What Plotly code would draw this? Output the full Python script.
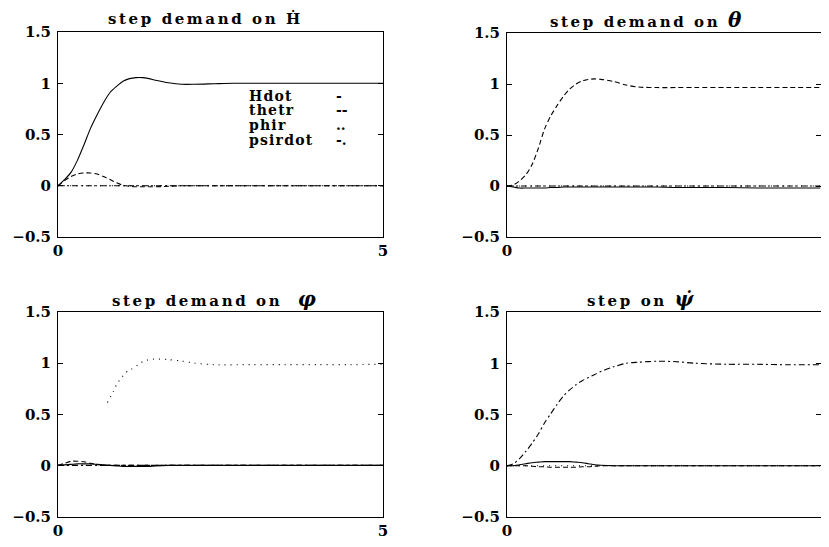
import plotly.graph_objects as go

# ---------------- data ----------------
t = [0, 0.1, 0.2, 0.3, 0.4, 0.5, 0.6, 0.7, 0.8, 0.9, 1.0, 1.1, 1.2, 1.3, 1.4, 1.5,
     1.7, 1.9, 2.1, 2.4, 2.7, 3.0, 3.5, 4.0, 4.5, 5.0]
zeros = [0] * len(t)

# step demand on H-dot
H_hdot = [0, 0.06, 0.13, 0.25, 0.40, 0.56, 0.69, 0.81, 0.91, 0.97, 1.02, 1.045, 1.055, 1.055,
          1.045, 1.03, 1.005, 0.99, 0.99, 0.995, 1.0, 1.0, 1.0, 1.0, 1.0, 1.0]
H_thetr = [0, 0.05, 0.09, 0.115, 0.125, 0.125, 0.115, 0.09, 0.06, 0.03, 0.005, -0.005, -0.01,
           -0.01, -0.01, -0.01, -0.005, 0, 0, 0, 0, 0, 0, 0, 0, 0]
H_phir = zeros
H_psirdot = zeros

# step demand on theta
T_hdot = [0, -0.01, -0.02, -0.02, -0.02, -0.02, -0.02, -0.015, -0.015, -0.01, -0.01, -0.01,
          -0.01, -0.01, -0.01, -0.01, -0.01, -0.01, -0.01, -0.01, -0.015, -0.015, -0.015,
          -0.02, -0.02, -0.02]
T_thetr = [0, 0.01, 0.05, 0.11, 0.21, 0.37, 0.56, 0.69, 0.79, 0.88, 0.95, 1.0, 1.03, 1.045,
           1.05, 1.045, 1.025, 0.99, 0.97, 0.965, 0.965, 0.965, 0.965, 0.965, 0.965, 0.965]
T_phir = zeros
T_psirdot = zeros

# step demand on phi
P_hdot = [0, 0.005, 0.01, 0.015, 0.015, 0.015, 0.01, 0.005, 0, -0.005, -0.01, -0.01, -0.01,
          -0.01, -0.01, -0.005, 0, 0, 0, 0, 0, 0, 0, 0, 0, 0]
P_thetr = [0, 0.02, 0.04, 0.04, 0.035, 0.02, 0.01, 0, 0, 0, 0, 0, 0, 0, 0, 0, 0, 0, 0, 0, 0,
           0, 0, 0, 0, 0]
P_phir_t = [0.76, 0.85, 0.91, 1.05, 1.13, 1.27, 1.32, 1.48, 1.69, 1.9, 2.1, 2.4, 3.0, 3.5,
            4.0, 4.5, 5.0]
P_phir = [0.615, 0.72, 0.80, 0.91, 0.94, 1.0, 1.02, 1.04, 1.035, 1.02, 1.0, 0.985, 0.985,
          0.985, 0.985, 0.985, 0.99]
P_psirdot = zeros

# step on psi-dot
S_hdot = [0, 0, 0.01, 0.02, 0.03, 0.035, 0.04, 0.04, 0.04, 0.04, 0.04, 0.035, 0.03, 0.02,
          0.01, 0.005, 0, 0, 0, 0, 0, 0, 0, 0, 0, 0]
S_thetr = [0, 0, 0, 0, -0.005, -0.01, -0.01, -0.015, -0.015, -0.015, -0.015, -0.015, -0.01,
           -0.01, -0.005, 0, 0, 0, 0, 0, 0, 0, 0, 0, 0, 0]
S_phir = zeros
S_psirdot = [0, 0.02, 0.07, 0.14, 0.22, 0.31, 0.42, 0.51, 0.6, 0.68, 0.74, 0.79, 0.83, 0.86,
             0.89, 0.92, 0.965, 1.0, 1.01, 1.02, 1.015, 1.0, 0.99, 0.99, 0.985, 0.985]

titles = ["step demand on Ḣ",
          "step demand on <span style='font-size:20px'><i>θ</i></span>",
          "step demand on  <span style='font-size:20px'><i>φ</i></span>",
          "step on <span style='font-size:20px'><i>ψ̇</i></span>"]
legend_names = ["Hdot", "thetr", "phir", "psirdot"]
legend_marks = ["-", "--", "..", "-."]
y_ticks = [-0.5, 0, 0.5, 1, 1.5]
y_ticktext = ["−0.5", "0", "0.5", "1", "1.5"]
x_ticks = [0, 5]

# ---------------- layout helpers ----------------
# page body has an 8px margin: the figure is placed at (8, 8) in the 829x547 window;
# keep the figure small enough that the page does not scroll.
PAGE_W, PAGE_H, OFF = 829, 547, 8
W, H = PAGE_W - 2 * OFF, PAGE_H - 2 * OFF
def px(x):
    return min((x - OFF) / W, 1.0)
def py(y):
    return 1 - (y - OFF) / H

FONT = "DejaVu Serif"
styles = {
    "Hdot": dict(color="black", width=1.1),
    "thetr": dict(color="black", width=1.1, dash="5px,3px"),
    "phir": dict(color="black", width=1.2, dash="1px,5px"),
    "psirdot": dict(color="black", width=1.1, dash="6px,3px,2px,3px"),
}

panels = [
    dict(series=[(t, H_hdot), (t, H_thetr), (t, H_phir), (t, H_psirdot)],
         xd=[px(58), px(383)], yd=[py(237), py(32)]),
    dict(series=[(t, T_hdot), (t, T_thetr), (t, T_phir), (t, T_psirdot)],
         xd=[px(507), px(820.5)], yd=[py(237), py(33)]),
    dict(series=[(t, P_hdot), (t, P_thetr), (P_phir_t, P_phir), (t, P_psirdot)],
         xd=[px(58), px(383)], yd=[py(516.5), py(312)]),
    dict(series=[(t, S_hdot), (t, S_thetr), (t, S_phir), (t, S_psirdot)],
         xd=[px(507), px(820.5)], yd=[py(517), py(312)]),
]

fig = go.Figure()
layout = {}
for i, p in enumerate(panels):
    n = "" if i == 0 else str(i + 1)
    for name, (xs, ys) in zip(legend_names, p["series"]):
        fig.add_trace(go.Scatter(x=xs, y=ys, mode="lines", name=name,
                                 line=dict(shape="spline", smoothing=0.8, **styles[name]),
                                 xaxis="x" + n, yaxis="y" + n, showlegend=False,
                                 connectgaps=False))
    axcommon = dict(showline=True, linecolor="black", linewidth=1, mirror="ticks",
                    showgrid=False, zeroline=False, ticks="inside", ticklen=5,
                    tickcolor="black", automargin=False,
                    tickfont=dict(family=FONT, size=15, color="black", weight="bold"))
    layout["xaxis" + n] = dict(domain=p["xd"], range=[0, 5], anchor="y" + n,
                               tickvals=x_ticks, ticktext=["0", "5"], **axcommon)
    layout["yaxis" + n] = dict(domain=p["yd"], range=[-0.5, 1.5], anchor="x" + n,
                               tickvals=y_ticks, ticktext=y_ticktext,
                               ticklabelstandoff=3, **axcommon)

fig.update_layout(**layout)

annotations = []
title_pos = [(205, 19), (647, 20), (216, 299), (641, 299)]
for txt, (x, y) in zip(titles, title_pos):
    annotations.append(dict(text="<b><span style='letter-spacing:2.6px'>" + txt + "</span></b>",
                            x=px(x), y=py(y), xref="paper",
                            yref="paper", xanchor="center", yanchor="middle",
                            showarrow=False,
                            font=dict(family=FONT, size=15, color="black")))
leg_y = [96, 110, 125, 140]
for name, mark, y in zip(legend_names, legend_marks, leg_y):
    annotations.append(dict(text="<b><span style='letter-spacing:1.2px'>" + name + "</span></b>",
                            x=px(247), y=py(y), xref="paper",
                            yref="paper", xanchor="left", yanchor="middle",
                            showarrow=False,
                            font=dict(family=FONT, size=14, color="black")))
    annotations.append(dict(text="<b>" + mark + "</b>", x=px(334), y=py(y), xref="paper",
                            yref="paper", xanchor="left", yanchor="middle",
                            showarrow=False,
                            font=dict(family=FONT, size=14, color="black")))

fig.update_layout(width=W, height=H, margin=dict(l=0, r=0, t=0, b=0, autoexpand=False),
                  paper_bgcolor="white", plot_bgcolor="white",
                  annotations=annotations, showlegend=False)

fig.write_html("out.html")
